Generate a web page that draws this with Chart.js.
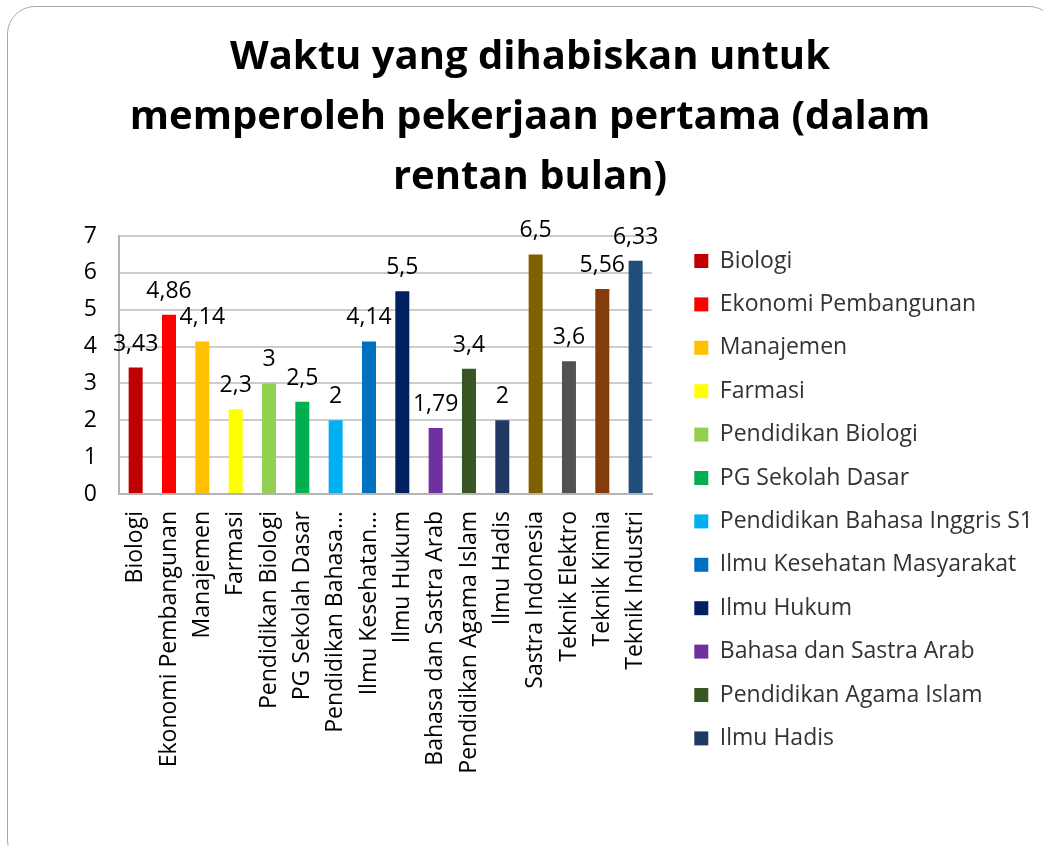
<!DOCTYPE html>
<html>
<head>
<meta charset="utf-8">
<script src="https://cdn.jsdelivr.net/npm/chart.js@4/dist/chart.umd.min.js"></script>
<style>
  html, body { margin: 0; padding: 0; background: #fff; overflow: hidden; }
  #wrap { position: relative; width: 1043px; height: 846px; overflow: hidden; }
  #frame { position: absolute; left: 7px; top: 6px; width: 1050px; height: 862px;
           border: 1.5px solid #a6a6a6; border-radius: 28px; box-sizing: border-box; }
  canvas { position: absolute; left: 0; top: 0; }
</style>
</head>
<body>
<div id="wrap">
  <div id="frame"></div>
  <canvas id="c" width="1043" height="846"></canvas>
</div>
<script>
const titleLines = [
  'Waktu yang dihabiskan untuk',
  'memperoleh pekerjaan pertama (dalam',
  'rentan bulan)'
];
const categories = [
  'Biologi', 'Ekonomi Pembangunan', 'Manajemen', 'Farmasi', 'Pendidikan Biologi',
  'PG Sekolah Dasar', 'Pendidikan Bahasa Inggris S1', 'Ilmu Kesehatan Masyarakat',
  'Ilmu Hukum', 'Bahasa dan Sastra Arab', 'Pendidikan Agama Islam', 'Ilmu Hadis',
  'Sastra Indonesia', 'Teknik Elektro', 'Teknik Kimia', 'Teknik Industri'
];
const tickLabels = [
  'Biologi', 'Ekonomi Pembangunan', 'Manajemen', 'Farmasi', 'Pendidikan Biologi',
  'PG Sekolah Dasar', 'Pendidikan Bahasa…', 'Ilmu Kesehatan…',
  'Ilmu Hukum', 'Bahasa dan Sastra Arab', 'Pendidikan Agama Islam', 'Ilmu Hadis',
  'Sastra Indonesia', 'Teknik Elektro', 'Teknik Kimia', 'Teknik Industri'
];
const months = [3.43, 4.86, 4.14, 2.3, 3, 2.5, 2, 4.14, 5.5, 1.79, 3.4, 2, 6.5, 3.6, 5.56, 6.33];
const barColors = [
  '#C00000', '#FF0000', '#FFC000', '#FFFF00', '#92D050', '#00B050', '#00B0F0', '#0070C0',
  '#002060', '#7030A0', '#375623', '#203864', '#7F6000', '#525252', '#843C0C', '#1F4E79'
];
const yTicks = [0, 1, 2, 3, 4, 5, 6, 7];
const legendShown = 12;

const FONT = '"Open Sans", "DejaVu Sans", sans-serif';
const FS = 23;
const LEGEND_LEFT = 675.6;

function makeSpacer(weight, widthFn) {
  return {
    position: 'right', weight: weight, fullSize: false, options: {},
    left: 0, top: 0, right: 0, bottom: 0, width: 0, height: 0,
    update(maxWidth, maxHeight) { this.width = widthFn(maxWidth); this.height = maxHeight; },
    isHorizontal() { return false; },
    getPadding() { return { left: 0, right: 0, top: 0, bottom: 0 }; },
    draw() {}
  };
}

const spacers = {
  id: 'spacers',
  afterInit(chart) {
    // let the legend take its natural width instead of the default cap
    const lg = chart.legend;
    const origUpdate = lg.update.bind(lg);
    lg.update = function (maxWidth, maxHeight, margins) {
      return origUpdate(Math.max(maxWidth, 420), maxHeight, margins);
    };
    // gap between plot area and legend
    Chart.layouts.addBox(chart, makeSpacer(500, () => 21.6));
    // room at the right so the legend starts where the reference has it
    Chart.layouts.addBox(chart, makeSpacer(1500, () =>
      Math.max(0, chart.width - LEGEND_LEFT - (chart.legend ? chart.legend.width : 0))));
  }
};

const valueLabels = {
  id: 'valueLabels',
  afterDatasetsDraw(chart) {
    const ctx = chart.ctx;
    const meta = chart.getDatasetMeta(0);
    const data = chart.data.datasets[0].data;
    ctx.save();
    ctx.font = FS + 'px ' + FONT;
    ctx.fillStyle = '#000';
    ctx.textAlign = 'center';
    ctx.textBaseline = 'alphabetic';
    meta.data.forEach((bar, i) => {
      ctx.fillText(String(data[i]).replace('.', ','), bar.x, bar.y - 17);
    });
    ctx.restore();
  }
};

new Chart(document.getElementById('c'), {
  type: 'bar',
  data: {
    labels: categories,
    datasets: [{
      data: months,
      backgroundColor: barColors,
      borderWidth: 0,
      categoryPercentage: 1,
      barPercentage: 0.42
    }]
  },
  options: {
    responsive: false,
    animation: false,
    devicePixelRatio: 1,
    layout: { padding: { left: 17, right: 0, top: 0, bottom: 0 } },
    plugins: {
      tooltip: { enabled: false },
      title: {
        display: true,
        text: titleLines,
        color: '#000',
        font: { family: FONT, size: 40, weight: 'bold', lineHeight: 1.5 },
        padding: { top: 28, bottom: 28 }
      },
      legend: {
        display: true,
        position: 'right',
        align: 'start',
        title: { display: true, text: ' ', font: { size: 10, lineHeight: 1 }, padding: { top: 219.1, bottom: 0 } },
        labels: {
          boxWidth: 14,
          boxHeight: 14,
          padding: 20.4,
          color: '#333',
          font: { family: FONT, size: FS },
          generateLabels(chart) {
            const ds = chart.data.datasets[0];
            return chart.data.labels.map((l, i) => ({
              text: l, fillStyle: ds.backgroundColor[i], strokeStyle: ds.backgroundColor[i],
              lineWidth: 0, hidden: false, index: i, datasetIndex: 0, fontColor: '#333'
            }));
          },
          filter(item) { return item.index < legendShown; }
        }
      }
    },
    scales: {
      x: {
        grid: { display: false, drawTicks: false },
        border: { display: true, color: '#b3b3b3', width: 2 },
        ticks: {
          autoSkip: false, maxRotation: 90, minRotation: 90, padding: 17,
          color: '#000', font: { family: FONT, size: FS },
          callback(v, i) { return tickLabels[i]; }
        },
        afterFit(scale) { scale.height = 352; }
      },
      y: {
        min: 0, max: 7,
        afterBuildTicks(scale) { scale.ticks = yTicks.map(v => ({ value: v })); },
        grid: { color: '#cccccc', lineWidth: 2, drawTicks: false },
        border: { display: true, color: '#b3b3b3', width: 2 },
        ticks: { padding: 22, color: '#000', font: { family: FONT, size: FS } },
        afterFit(scale) { scale.width = 102; }
      }
    }
  },
  plugins: [spacers, valueLabels]
});
</script>
</body>
</html>
